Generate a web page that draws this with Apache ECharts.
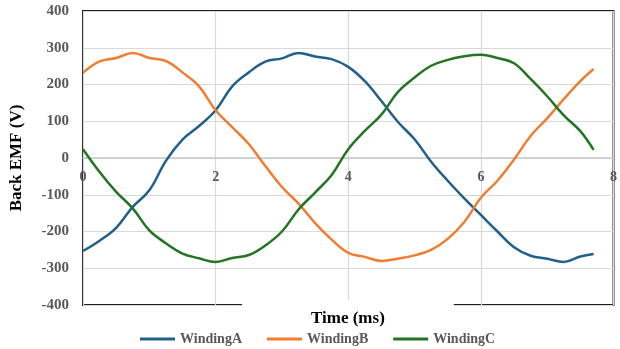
<!DOCTYPE html>
<html>
<head>
<meta charset="utf-8">
<script src="https://cdn.jsdelivr.net/npm/echarts@6/dist/echarts.min.js"></script>
<style>
html,body{margin:0;padding:0;background:#fff;}
#chart{width:620px;height:349px;}
</style>
</head>
<body>
<div id="chart"></div>
<script>
const timeMs = [0, 0.25, 0.5, 0.75, 1, 1.25, 1.5, 1.75, 2, 2.25, 2.5, 2.75, 3, 3.25, 3.5, 3.75, 4, 4.25, 4.5, 4.75, 5, 5.25, 5.5, 5.75, 6, 6.25, 6.5, 6.75, 7, 7.25, 7.5, 7.7];
const windingA = [-253, -225, -190, -133, -88, -8, 50, 87, 130, 195, 233, 262, 271, 286, 276, 269, 248, 209, 155, 98, 51, -10, -62, -110, -155, -200, -243, -266, -274, -283, -268, -261];
const windingB = [232, 263, 272, 286, 272, 264, 233, 195, 130, 84, 38, -22, -79, -124, -177, -222, -258, -269, -280, -274, -265, -250, -220, -174, -108, -62, -4, 60, 108, 160, 209, 242];
const windingC = [24, -38, -92, -137, -197, -232, -260, -273, -283, -272, -264, -238, -200, -140, -94, -46, 24, 74, 118, 180, 219, 251, 267, 277, 281, 272, 258, 215, 168, 116, 73, 22];
const seriesNames = ['WindingA', 'WindingB', 'WindingC'];
const seriesColors = ['#21608a', '#f07d31', '#237524'];
const xTicks = {min: 0, max: 8, interval: 2};
const yTicks = {min: -400, max: 400, interval: 100};

const font = "'Liberation Serif', 'Times New Roman', serif";
const pair = (vals) => timeMs.map((t, i) => [t, vals[i]]);
const allVals = [windingA, windingB, windingC];

const gridTop = 11, gridBottom = 44, chartH = 349;
const plotH = chartH - gridTop - gridBottom;
// move the x axis up to the value-axis zero line
const zeroOffset = -plotH * (0 - yTicks.min) / (yTicks.max - yTicks.min);

const chart = echarts.init(document.getElementById('chart'), null, {renderer: 'canvas'});
chart.setOption({
  animation: false,
  backgroundColor: '#fff',
  grid: {left: 80, right: 1, top: gridTop, bottom: gridBottom, show: true, borderColor: '#1f1f1f', borderWidth: 2, backgroundColor: 'transparent'},
  title: {
    text: 'Time (ms)', left: 242, top: 300,
    padding: [10, 69, 4, 69],
    backgroundColor: '#fff',
    textStyle: {fontFamily: font, fontWeight: 'bold', fontSize: 17, color: '#000'}
  },
  legend: {
    left: 135, top: 327, itemWidth: 35, itemHeight: 3, itemGap: 25,
    icon: 'rect',
    data: seriesNames,
    textStyle: {fontFamily: font, fontWeight: 'bold', fontSize: 14, color: '#595959'}
  },
  xAxis: {
    type: 'value', min: xTicks.min, max: xTicks.max, interval: xTicks.interval,
    offset: zeroOffset,
    axisLine: {show: true, onZero: false, lineStyle: {color: '#c8c8c8', width: 1.5}},
    axisTick: {show: false},
    axisLabel: {margin: 12, fontFamily: font, fontWeight: 'bold', fontSize: 14, color: '#595959'},
    splitLine: {show: true, lineStyle: {color: '#d9d9d9', width: 1.2}}
  },
  yAxis: {
    type: 'value', min: yTicks.min, max: yTicks.max, interval: yTicks.interval,
    name: 'Back EMF (V)', nameLocation: 'middle', nameGap: 58,
    nameTextStyle: {fontFamily: font, fontWeight: 'bold', fontSize: 17, color: '#000'},
    axisLine: {show: false},
    axisTick: {show: false},
    axisLabel: {margin: 14, fontFamily: font, fontWeight: 'bold', fontSize: 15, color: '#595959'},
    splitLine: {show: true, lineStyle: {color: '#d9d9d9', width: 1.2}}
  },
  series: seriesNames.map((name, i) => ({
    name: name, type: 'line', data: pair(allVals[i]),
    smooth: 0.4, showSymbol: false, symbol: 'none',
    lineStyle: {color: seriesColors[i], width: 2.5},
    itemStyle: {color: seriesColors[i]}
  }))
});
</script>
</body>
</html>
